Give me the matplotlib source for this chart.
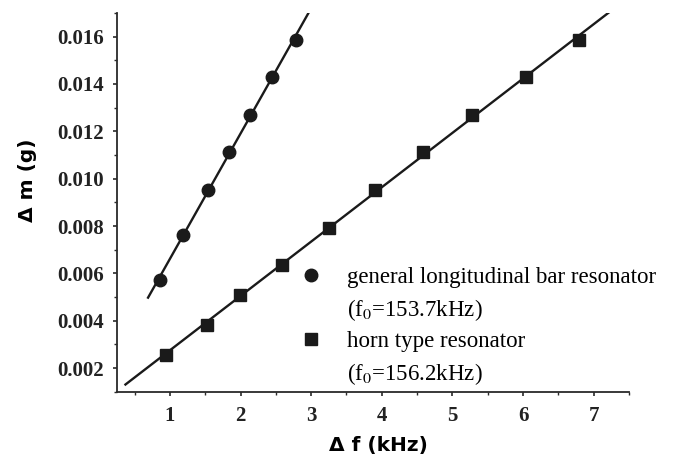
import numpy as np
import matplotlib
matplotlib.use("Agg")
import matplotlib.pyplot as plt
from matplotlib.lines import Line2D

plt.rcParams["mathtext.fontset"] = "stix"

# general longitudinal bar resonator (f0=153.7kHz)
bar_df = [0.86, 1.19, 1.54, 1.83, 2.13, 2.44, 2.78]
bar_dm = [0.00573, 0.00764, 0.00953, 0.01111, 0.01270, 0.01428, 0.01586]

# horn type resonator (f0=156.2kHz)
horn_df = [0.94, 1.52, 1.99, 2.58, 3.25, 3.91, 4.59, 5.28, 6.04, 6.79]
horn_dm = [0.00254, 0.00382, 0.00510, 0.00637, 0.00793, 0.00953, 0.01111,
           0.01270, 0.01428, 0.01586]

# extent of the drawn fit lines
bar_fit_range = [0.69, 2.98]
horn_fit_range = [0.37, 7.24]

x_ticks = [1, 2, 3, 4, 5, 6, 7]
y_ticks = [0.002, 0.004, 0.006, 0.008, 0.010, 0.012, 0.014, 0.016]

fig = plt.figure(figsize=(6.77, 4.59), dpi=100)
ax = fig.add_axes([0.1728, 0.1466, 0.7562, 0.8251])

ink = "#1a1a1a"

# linear fits
for xs, ys, rng in [(bar_df, bar_dm, bar_fit_range), (horn_df, horn_dm, horn_fit_range)]:
    k, b = np.polyfit(xs, ys, 1)
    xx = np.array(rng)
    ax.plot(xx, k * xx + b, color=ink, lw=1.7, zorder=2)

ax.plot(bar_df, bar_dm, "o", color=ink, ms=9, zorder=3)
ax.plot(horn_df, horn_dm, "s", color=ink, ms=8, zorder=3)

ax.set_xlim(0.25, 7.5)
ax.set_ylim(0.001, 0.017)
ax.set_xticks(x_ticks)
ax.set_yticks(y_ticks)
ax.set_xticks(np.arange(0.5, 7.6, 0.5), minor=True)
ax.set_yticks(np.arange(0.001, 0.0171, 0.001), minor=True)
ax.set_yticklabels(["%.3f" % v for v in y_ticks])

for s in ["top", "right"]:
    ax.spines[s].set_visible(False)
for s in ["left", "bottom"]:
    ax.spines[s].set_linewidth(1.3)
    ax.spines[s].set_color("#2a2a2a")

ax.tick_params(which="major", direction="out", length=3.2, width=1.2, color="#2a2a2a")
ax.tick_params(which="minor", direction="out", length=2.0, width=1.0, color="#2a2a2a")
ax.tick_params(axis="x", which="major", pad=7)
ax.tick_params(axis="y", which="major", pad=6)
for lab in ax.get_xticklabels() + ax.get_yticklabels():
    lab.set_family("Liberation Serif")
    lab.set_fontweight("bold")
    lab.set_fontsize(15)
    lab.set_color("#222222")

ax.set_xlabel("Δ f (kHz)", fontsize=14.5, fontweight="bold", family="DejaVu Sans")
ax.set_ylabel("Δ m (g)", fontsize=14.5, fontweight="bold", family="DejaVu Sans")
ax.xaxis.set_label_coords(0.51, -0.118)
ax.yaxis.set_label_coords(-0.156, 0.559)

handles = [
    Line2D([], [], marker="o", ls="none", color=ink, ms=9),
    Line2D([], [], ls="none"),
    Line2D([], [], marker="s", ls="none", color=ink, ms=8),
    Line2D([], [], ls="none"),
]
labels = [
    "general longitudinal bar resonator",
    "(f$_0$=153.7kHz)",
    "horn type resonator",
    "(f$_0$=156.2kHz)",
]
leg = ax.legend(handles, labels, loc="lower left", bbox_to_anchor=(0.347, 0.0),
                frameon=False, handlelength=1.0, handletextpad=1.07,
                labelspacing=0.38, borderpad=0.2, borderaxespad=0,
                prop={"family": "Liberation Serif", "size": 16.5})

fig.savefig("out.png", dpi=100)
